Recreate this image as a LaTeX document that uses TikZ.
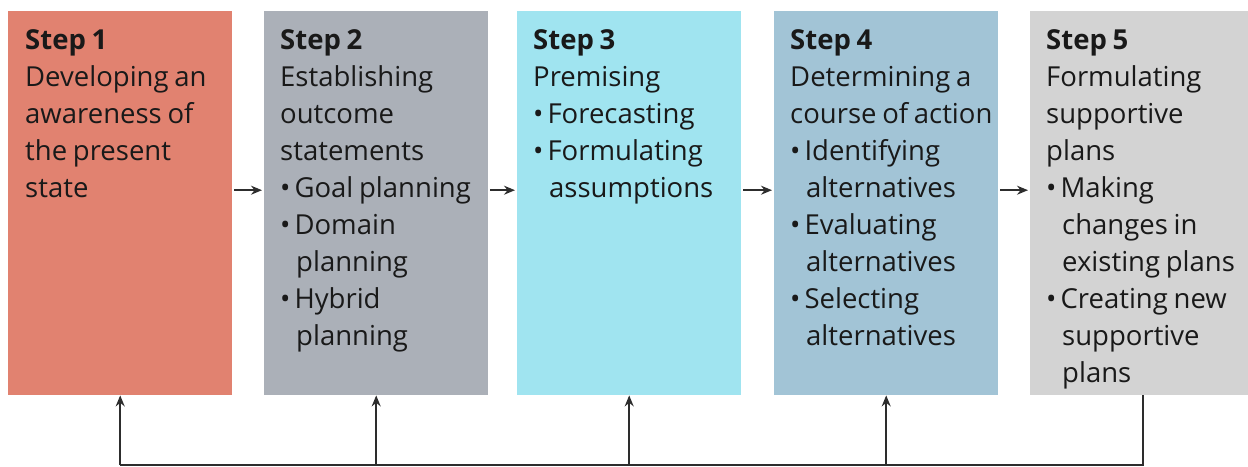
\documentclass[tikz,border=0pt]{standalone}
\usepackage{fontspec}
\setmainfont[WordSpace=0.8]{Open Sans}
\usetikzlibrary{arrows.meta,positioning}
\definecolor{StepRed}{RGB}{225,130,112}
\definecolor{StepGray}{RGB}{171,176,184}
\definecolor{StepCyan}{RGB}{160,228,240}
\definecolor{StepBlue}{RGB}{162,196,214}
\definecolor{StepLight}{RGB}{211,211,211}
\definecolor{StepText}{RGB}{25,25,25}
\definecolor{LineGray}{RGB}{45,45,45}
\newcommand{\bul}{\textbullet\hspace{4pt}}
\newcommand{\cont}{\hspace*{16pt}}

\begin{document}
\begin{tikzpicture}[x=1pt,y=-1pt,
  stepbox/.style={minimum width=224pt,minimum height=384pt,inner sep=0pt,anchor=north west},
  steptext/.style={anchor=north west,align=left,inner sep=0pt,
    font=\fontsize{27.5}{37}\selectfont,text=StepText},
  flow/.style={-{Stealth[length=11pt,width=9pt]},draw=LineGray,line width=1.5pt},
  back/.style={draw=LineGray,line width=1.5pt}]
\useasboundingbox (0,0) rectangle (1248,466);

% boxes
\node[stepbox,fill=StepRed] (s1) at (8,11) {};
\node[stepbox,fill=StepGray] (s2) at (264,11) {};
\node[stepbox,fill=StepCyan] (s3) at (517,11) {};
\node[stepbox,fill=StepBlue] (s4) at (774,11) {};
\node[stepbox,fill=StepLight,minimum width=218pt] (s5) at (1030,11) {};

% texts
\node[steptext] (t1) at ([xshift=17pt,yshift=-18pt]s1.north west) {
  \textbf{Step 1}\\
  Developing an\\
  awareness of\\
  the present\\
  state};
\node[steptext] (t2) at ([xshift=16pt,yshift=-18pt]s2.north west) {
  \textbf{Step 2}\\
  Establishing\\
  outcome\\
  statements\\
  \bul Goal planning\\
  \bul Domain\\
  \cont planning\\
  \bul Hybrid\\
  \cont planning};
\node[steptext] (t3) at ([xshift=16pt,yshift=-18pt]s3.north west) {
  \textbf{Step 3}\\
  Premising\\
  \bul Forecasting\\
  \bul Formulating\\
  \cont assumptions};
\node[steptext] (t4) at ([xshift=16pt,yshift=-18pt]s4.north west) {
  \textbf{Step 4}\\
  Determining a\\
  course of action\\
  \bul Identifying\\
  \cont alternatives\\
  \bul Evaluating\\
  \cont alternatives\\
  \bul Selecting\\
  \cont alternatives};
\node[steptext] (t5) at ([xshift=16pt,yshift=-18pt]s5.north west) {
  \textbf{Step 5}\\
  Formulating\\
  supportive\\
  plans\\
  \bul Making\\
  \cont changes in\\
  \cont existing plans\\
  \bul Creating new\\
  \cont supportive\\
  \cont plans};

% forward arrows
\draw[flow,shorten <=2pt,shorten >=2pt] ([yshift=13pt]s1.east) -- ([yshift=13pt]s2.west);
\draw[flow,shorten <=2pt,shorten >=2pt] ([yshift=13pt]s2.east) -- ([yshift=13pt]s3.west);
\draw[flow,shorten <=2pt,shorten >=2pt] ([yshift=13pt]s3.east) -- ([yshift=13pt]s4.west);
\draw[flow,shorten <=2pt,shorten >=2pt] ([yshift=13pt]s4.east) -- ([yshift=13pt]s5.west);

% feedback loop
\coordinate (fb) at (0,465);
\draw[back] ([xshift=4pt]s5.south) |- (s1.south |- fb);
\draw[flow] (s1.south |- fb) -- (s1.south);
\draw[flow] (s2.south |- fb) -- (s2.south);
\draw[flow] (s3.south |- fb) -- (s3.south);
\draw[flow] (s4.south |- fb) -- (s4.south);
\end{tikzpicture}
\end{document}
